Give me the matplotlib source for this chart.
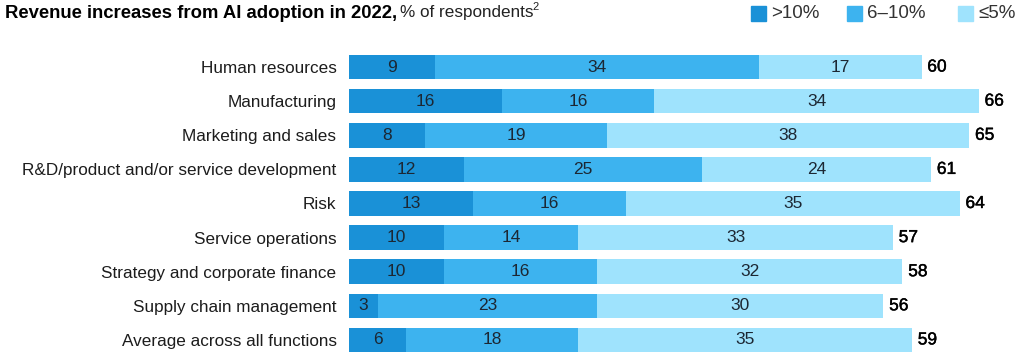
import matplotlib.pyplot as plt
import matplotlib.patheffects as pe
from matplotlib.patches import Rectangle
import numpy as np

plt.rcParams['font.family'] = ['Liberation Sans', 'DejaVu Sans']

categories = ['Human resources', 'Manufacturing', 'Marketing and sales',
              'R&D/product and/or service development', 'Risk',
              'Service operations', 'Strategy and corporate finance',
              'Supply chain management', 'Average across all functions']
over10 = [9, 16, 8, 12, 13, 10, 10, 3, 6]
mid = [34, 16, 19, 25, 16, 14, 16, 23, 18]
under5 = [17, 34, 38, 24, 35, 33, 32, 30, 35]
totals = [60, 66, 65, 61, 64, 57, 58, 56, 59]
series_names = ['>10%', '6\u201310%', '\u22645%']
colors = ['#1a91d7', '#3db3ef', '#9fe3fd']

W, H = 1024, 357
fig = plt.figure(figsize=(W / 100, H / 100), dpi=100)
# axes placed in pixel units
left, right, top, bottom = 349, 1017, 50, 357
ax = fig.add_axes([left / W, 1 - bottom / H, (right - left) / W, (bottom - top) / H])

y = np.arange(len(categories))
series = [over10, mid, under5]
start = np.zeros(len(categories))
for vals, c in zip(series, colors):
    vals = np.array(vals)
    ax.barh(y, vals, left=start, height=0.72, color=c, edgecolor='none')
    for yi, s, v in zip(y, start, vals):
        ax.text(s + v / 2, yi, str(v), ha='center', va='center',
                fontsize=12.5, color='#1c2733')
    start = start + vals

thick = [pe.withStroke(linewidth=0.3, foreground='black')]
for yi, t, tot in zip(y, start, totals):
    ax.text(t + 0.6, yi, str(tot), ha='left', va='center', fontsize=12.5,
            color='black', path_effects=thick)

ax.set_xlim(0, 70)
ax.set_ylim(8.5, -0.5)
ax.set_yticks(y)
ax.set_yticklabels(categories, fontsize=12.3, color='#1c1c1c')
ax.tick_params(axis='y', length=0, pad=9)
ax.set_xticks([])
for sp in ax.spines.values():
    sp.set_visible(False)

# title
t1 = fig.text(5 / W, 1 - 13 / H, 'Revenue increases from AI adoption in 2022,',
              fontsize=13.3, fontweight='bold', va='center', ha='left')
fig.canvas.draw()
bb = t1.get_window_extent()
t2 = fig.text(bb.x1 / W + 3 / W, 1 - 13 / H, '% of respondents', fontsize=12.3,
              va='center', ha='left', color='#222222')
fig.canvas.draw()
bb2 = t2.get_window_extent()
fig.text(bb2.x1 / W - 1 / W, 1 - 7 / H, '2', fontsize=8,
         va='center', ha='left', color='#222222')

# legend
leg_x = [751, 847, 958]
for lx, name, c in zip(leg_x, series_names, colors):
    fig.patches.append(Rectangle((lx / W, 1 - 21 / H), 15 / W, 15 / H,
                                 transform=fig.transFigure, color=c))
    fig.text((lx + 20) / W, 1 - 13 / H, name, fontsize=13.5, va='center',
             ha='left', color='#333333')

fig.savefig('out.png', dpi=100)
